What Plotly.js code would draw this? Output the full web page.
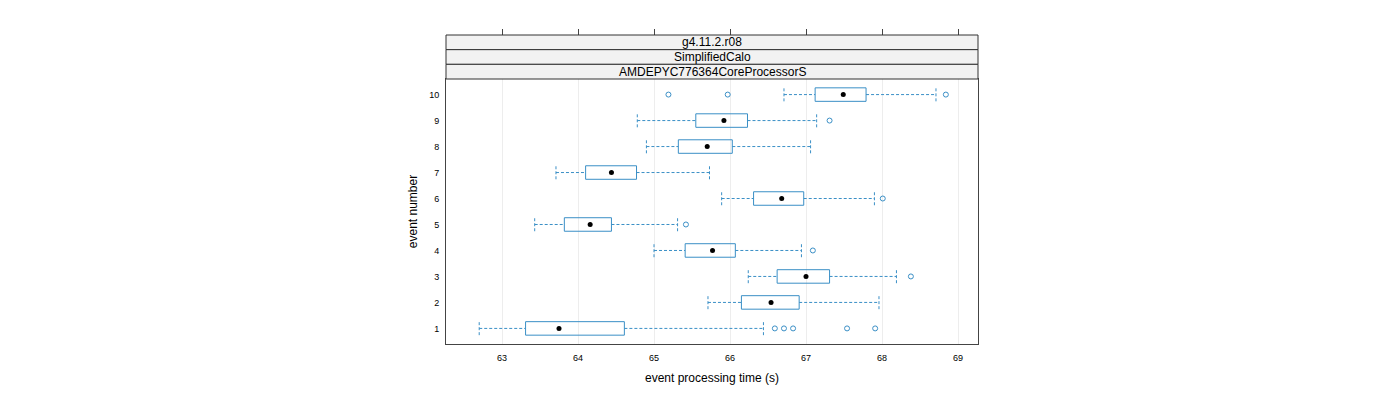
<!DOCTYPE html>
<html>
<head>
<meta charset="utf-8">
<script src="https://cdn.plot.ly/plotly-3.0.1.min.js"></script>
<style>
  html, body { margin: 0; padding: 0; background: #fff; }
  #myDiv { width: 1400px; height: 400px; }
</style>
</head>
<body>
<div id="myDiv"></div>
<script>
// Box summaries, one entry per event number
const events = [1, 2, 3, 4, 5, 6, 7, 8, 9, 10];
const whiskLo = [62.70, 65.71, 66.24, 65.00, 63.43, 65.89, 63.71, 64.90, 64.78, 66.71];
const q1 = [63.31, 66.15, 66.62, 65.41, 63.82, 66.31, 64.10, 65.32, 65.55, 67.12];
const median = [63.75, 66.54, 67.00, 65.77, 64.16, 66.68, 64.44, 65.70, 65.92, 67.49];
const q3 = [64.61, 66.91, 67.31, 66.07, 64.44, 66.97, 64.77, 66.03, 66.23, 67.79];
const whiskHi = [66.44, 67.96, 68.19, 66.94, 65.31, 67.90, 65.73, 67.06, 67.14, 68.71];

// outliers (event, time)
const outlierEvent = [1, 1, 1, 1, 1, 3, 4, 5, 6, 9, 10, 10, 10];
const outlierTime = [66.59, 66.71, 66.83, 67.54, 67.91, 68.38, 67.09, 65.42, 68.01, 67.31, 65.19, 65.97, 68.84];

// strip labels, top to bottom
const stripLabels = ['g4.11.2.r08', 'SimplifiedCalo', 'AMDEPYC776364CoreProcessorS'];

const blue = '#3a8fc6';
const h = 0.26; // half box height in event units

// build box outlines, whiskers and caps as line segments separated by nulls
const boxX = [], boxY = [], whX = [], whY = [];
events.forEach((e, i) => {
  boxX.push(q1[i], q3[i], q3[i], q1[i], q1[i], null);
  boxY.push(e - h, e - h, e + h, e + h, e - h, null);
  // whiskers
  whX.push(whiskLo[i], q1[i], null, q3[i], whiskHi[i], null);
  whY.push(e, e, null, e, e, null);
  // caps
  whX.push(whiskLo[i], whiskLo[i], null, whiskHi[i], whiskHi[i], null);
  whY.push(e - h, e + h, null, e - h, e + h, null);
});

const data = [
  {
    x: whX, y: whY, type: 'scatter', mode: 'lines',
    line: { color: blue, width: 1, dash: '3px,2px' },
    hoverinfo: 'skip', showlegend: false,
  },
  {
    x: boxX, y: boxY, type: 'scatter', mode: 'lines',
    line: { color: blue, width: 1 },
    hoverinfo: 'skip', showlegend: false,
  },
  {
    x: median, y: events, type: 'scatter', mode: 'markers',
    marker: { color: '#000', size: 5 },
    showlegend: false,
  },
  {
    x: outlierTime, y: outlierEvent, type: 'scatter', mode: 'markers',
    marker: { symbol: 'circle-open', color: blue, size: 5, line: { width: 1 } },
    showlegend: false,
  },
  // invisible trace so the top tick axis is drawn
  { x: [63], y: [1], xaxis: 'x2', type: 'scatter', mode: 'markers', marker: { opacity: 0 }, hoverinfo: 'skip', showlegend: false },
];

const xRange = [62.263, 69.263];
const panelTop = 0.8576; // fraction of the paper below the strips
const stripH = (1 - panelTop) / 3;

const shapes = stripLabels.map((s, k) => ({
  type: 'rect', xref: 'paper', yref: 'paper',
  x0: 0, x1: 1, y0: 1 - (k + 1) * stripH, y1: 1 - k * stripH,
  fillcolor: '#f2f2f2', line: { color: '#333', width: 1 }, layer: 'above',
}));

const annotations = stripLabels.map((s, k) => ({
  text: s, xref: 'paper', yref: 'paper', x: 0.5, y: 1 - (k + 0.5) * stripH,
  xanchor: 'center', yanchor: 'middle', showarrow: false,
  font: { size: 12, color: '#000' },
}));

const layout = {
  width: 1400, height: 400,
  margin: { l: 446, r: 422, t: 35, b: 56 },
  paper_bgcolor: '#fff', plot_bgcolor: '#fff',
  font: { family: 'Liberation Sans, Arial, sans-serif', color: '#000' },
  xaxis: {
    range: xRange, tickvals: [63, 64, 65, 66, 67, 68, 69],
    ticks: 'outside', ticklen: 5, tickcolor: 'rgba(0,0,0,0)',
    tickfont: { size: 9 },
    showgrid: true, gridcolor: '#ededed', zeroline: false,
    showline: true, linecolor: '#444', linewidth: 1, mirror: true,
    title: { text: 'event processing time (s)', font: { size: 12 }, standoff: 11 },
  },
  xaxis2: {
    range: xRange, overlaying: 'x', side: 'top', anchor: 'free', position: 1,
    tickvals: [63, 64, 65, 66, 67, 68, 69], ticks: 'outside', ticklen: 6,
    tickcolor: '#444', showticklabels: false, showgrid: false, zeroline: false,
    showline: false,
  },
  yaxis: {
    domain: [0, panelTop], range: [0.4, 10.6],
    tickvals: events, ticks: 'outside', ticklen: 4, tickcolor: 'rgba(0,0,0,0)',
    tickfont: { size: 9 },
    showgrid: false, zeroline: false,
    showline: true, linecolor: '#444', linewidth: 1, mirror: true,
    title: { text: 'event number', font: { size: 12 }, standoff: 8 },
  },
  shapes: shapes,
  annotations: annotations,
};

Plotly.newPlot('myDiv', data, layout, { staticPlot: true });
</script>
</body>
</html>
